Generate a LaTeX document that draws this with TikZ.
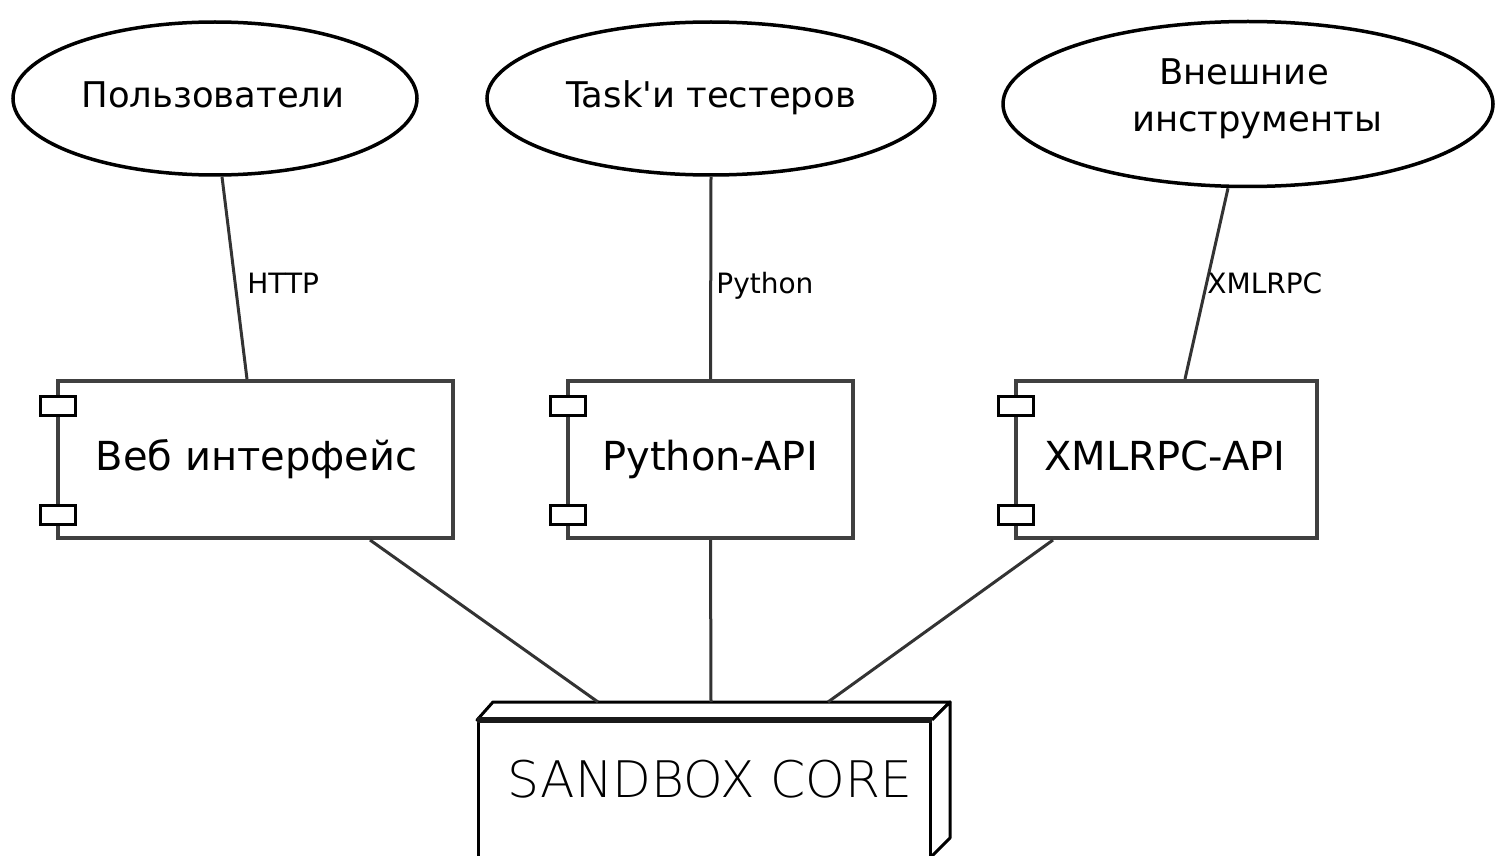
\documentclass[tikz,border=0pt]{standalone}
\usepackage{fontspec}
\setmainfont{DejaVu Sans}[Ligatures=TeXOff]
\newfontfamily\thinfont{DejaVu Sans ExtraLight}
\usetikzlibrary{shapes.geometric,calc}
\begin{document}
\begin{tikzpicture}[x=0.5pt,y=-0.5pt,
  conn/.style={draw=black!80, line width=1.5pt},
  oval/.style={ellipse, draw=black, line width=1.75pt, inner sep=0pt},
  ovaltext/.style={font=\fontsize{17.7pt}{23.5pt}\selectfont, inner sep=0pt, anchor=base},
  comp/.style={draw=black!75, line width=2pt, fill=white, inner sep=0pt},
  port/.style={draw=black, line width=1.5pt, fill=white, minimum width=17.5pt, minimum height=9.5pt, inner sep=0pt},
  comptext/.style={font=\fontsize{20pt}{24pt}\selectfont, inner sep=0pt, anchor=base},
  lbl/.style={font=\fontsize{14pt}{17pt}\selectfont, inner sep=0pt, anchor=base west},
  corebox/.style={draw=black, line width=1.5pt, fill=white, inner sep=0pt},
]
\useasboundingbox (0,0) rectangle (1495,856);
\clip (0,0) rectangle (1495,856);

% ellipses
\node[oval, minimum width=202pt, minimum height=76.5pt] (users) at (215,98.5) {};
\node[ovaltext] (userst) at (213,108) {Пользователи};
\node[oval, minimum width=224pt, minimum height=76.5pt] (tasks) at (711,98.5) {};
\node[ovaltext] (taskst) at (711,108) {Task'и тестеров};
\node[oval, minimum width=245pt, minimum height=82.5pt] (ext) at (1248,104) {};
\node[ovaltext] (extt1) at (1244,85) {Внешние};
\node[ovaltext] (extt2) at (1257,132) {инструменты};

% components
\node[comp, minimum width=197.5pt, minimum height=78.5pt] (web) at (255.5,459.5) {};
\node[comptext] (webt) at (256.5,470) {Веб интерфейс};
\node[port] (webp1) at ($(web.north west)+(1.5,26.5)$) {};
\node[port] (webp2) at ($(web.south west)+(1.5,-25.5)$) {};

\node[comp, minimum width=142.5pt, minimum height=78.5pt] (py) at (710.5,459.5) {};
\node[comptext] (pyt) at (710,470) {Python-API};
\node[port] (pyp1) at ($(py.north west)+(1.5,26.5)$) {};
\node[port] (pyp2) at ($(py.south west)+(1.5,-25.5)$) {};

\node[comp, minimum width=150.5pt, minimum height=78.5pt] (xml) at (1166.5,459.5) {};
\node[comptext] (xmlt) at (1165,470) {XMLRPC-API};
\node[port] (xmlp1) at ($(xml.north west)+(1.5,26.5)$) {};
\node[port] (xmlp2) at ($(xml.south west)+(1.5,-25.5)$) {};

% connectors ellipse -> component
\draw[conn] ($(users.south)+(7,0)$) -- ($(web.north)+(-8.5,0)$);
\draw[conn] (tasks.south) -- (py.north);
\draw[conn] ($(ext.south)+(-20,0)$) -- ($(xml.north)+(18.5,0)$);
\node[lbl] (lhttp) at (247,293) {HTTP};
\node[lbl] (lpy) at (716,293) {Python};
\node[lbl] (lxml) at (1207,293) {XMLRPC};

% core
\node[corebox, minimum width=226pt, minimum height=80pt, anchor=north west] (core) at (477,720) {};
\coordinate (tbl) at ($(core.north west)+(16,-18)$);
\coordinate (tbr) at ($(core.north east)+(18,-18)$);
\draw[corebox, line join=round] (core.north west) -- (tbl) -- (tbr) -- (core.north east) -- cycle;
\draw[corebox, line join=round] (core.north east) -- (tbr) -- ($(tbr)+(0,136)$) -- ($(core.north east)+(0,136)$);
\draw[black!90, line width=3pt] (core.north west) -- (core.north east);
\node[font=\thinfont\fontsize{25.2pt}{30pt}\selectfont, inner sep=0pt, anchor=base] (coret) at (710,797) {SANDBOX CORE};

% connectors component -> core
\draw[conn] ($(web.south)+(114.5,0)$) -- ($(tbl)+(105,0)$);
\draw[conn] (py.south) -- ($(tbl)+(218,0)$);
\draw[conn] ($(xml.south)+(-113.5,0)$) -- ($(tbl)+(335,0)$);
\end{tikzpicture}
\end{document}
